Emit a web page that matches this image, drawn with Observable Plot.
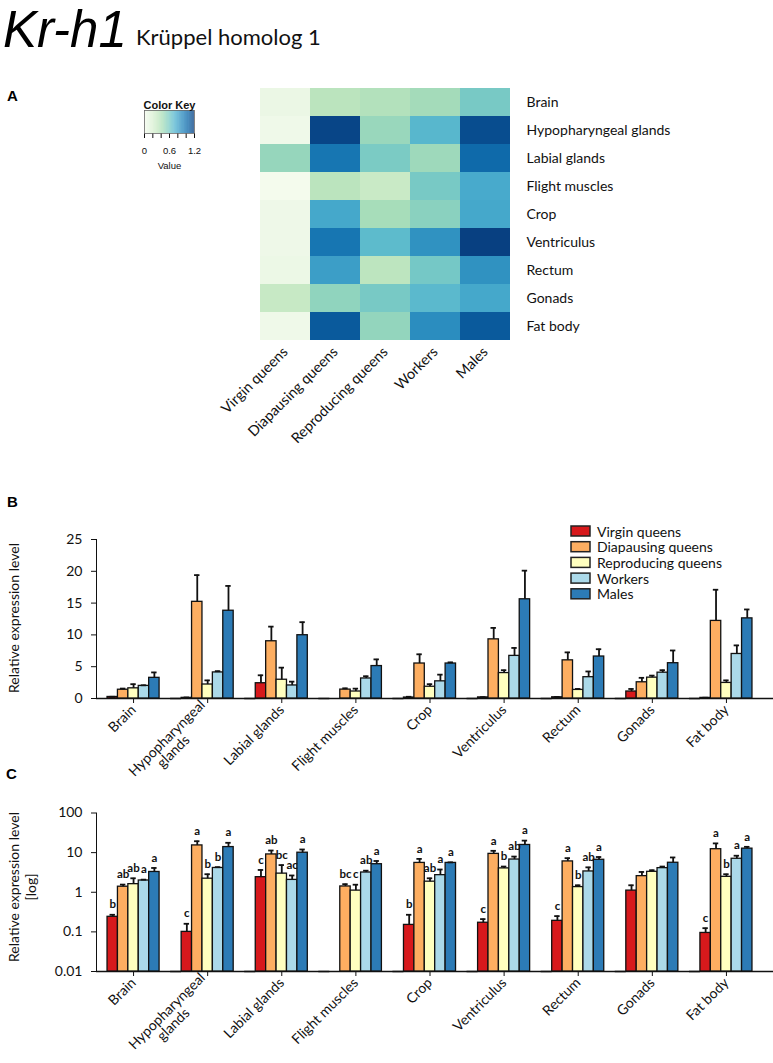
<!DOCTYPE html>
<html>
<head>
<meta charset="utf-8">
<script src="https://cdn.jsdelivr.net/npm/d3@7"></script>
<script src="https://cdn.jsdelivr.net/npm/@observablehq/plot@0.6"></script>
<style>
  body { margin: 0; background: #fff; }
  #root { position: relative; width: 773px; height: 1063px; overflow: hidden; background: #fff; }
  #root > svg, #root > figure { position: absolute; margin: 0; }
</style>
</head>
<body>
<div id="root"></div>
<script>
// ---------------- data ----------------
const tissues = ["Brain", "Hypopharyngeal glands", "Labial glands", "Flight muscles", "Crop",
                 "Ventriculus", "Rectum", "Gonads", "Fat body"];
const groups = ["Virgin queens", "Diapausing queens", "Reproducing queens", "Workers", "Males"];
const groupColors = ["#d7191c", "#fdae61", "#ffffbf", "#abd9e9", "#2c7bb6"];

// heatmap values (rows = tissues, columns = groups)
const heatValues = [
  [0.08, 0.37, 0.40, 0.46, 0.61],
  [0.05, 1.18, 0.50, 0.72, 1.15],
  [0.51, 0.99, 0.60, 0.48, 1.04],
  [0.02, 0.37, 0.30, 0.61, 0.78],
  [0.06, 0.79, 0.45, 0.55, 0.79],
  [0.06, 0.99, 0.70, 0.88, 1.21],
  [0.07, 0.83, 0.36, 0.62, 0.88],
  [0.31, 0.53, 0.61, 0.71, 0.79],
  [0.05, 1.10, 0.52, 0.90, 1.10]
];

// mean relative expression (rows = tissues, columns = groups)
const means = [
  [0.24, 1.38, 1.60, 1.98, 3.25],
  [0.10, 15.2, 2.20, 4.10, 13.8],
  [2.40, 9.00, 2.95, 2.05, 9.95],
  [null, 1.40, 1.10, 3.15, 5.10],
  [0.15, 5.50, 1.85, 2.70, 5.50],
  [0.17, 9.30, 4.00, 6.70, 15.6],
  [0.19, 6.00, 1.35, 3.35, 6.60],
  [1.10, 2.55, 3.28, 4.06, 5.55],
  [0.094, 12.2, 2.45, 7.00, 12.6]
];
// top of error bars
const uppers = [
  [0.27, 1.56, 2.25, 2.08, 4.10],
  [0.16, 19.4, 2.85, 4.30, 17.7],
  [3.65, 11.3, 4.85, 2.65, 12.0],
  [null, 1.60, 1.55, 3.50, 6.15],
  [0.27, 6.95, 2.25, 3.75, 5.68],
  [0.21, 11.1, 4.45, 7.95, 20.1],
  [0.25, 7.25, 1.50, 4.25, 7.75],
  [1.50, 3.25, 3.60, 4.45, 7.55],
  [0.124, 17.1, 2.85, 8.35, 14.0]
];
// significance letters (panel C)
const letters = [
  ["b", "ab", "ab", "a", "a"],
  ["c", "a", "b", "b", "a"],
  ["c", "ab", "bc", "ac", "a"],
  ["", "bc", "c", "ab", "a"],
  ["b", "a", "ab", "a", "a"],
  ["c", "a", "b", "ab", "a"],
  ["c", "a", "b", "ab", "a"],
  ["", "", "", "", ""],
  ["c", "a", "b", "a", "a"]
];

const yTicksB = [0, 5, 10, 15, 20, 25];
const yTicksC = [0.01, 0.1, 1, 10, 100];
const keyTicks = [0, 0.2, 0.4, 0.6, 0.8, 1, 1.2];
const keyLabels = [0, 0.6, 1.2];
const keyStops = d3.range(0, 1.2001, 0.005);

// ---------------- tables ----------------
const heatData = tissues.flatMap((t, i) => groups.map((g, j) => ({tissue: t, group: g, value: heatValues[i][j]})));
const barData = tissues.flatMap((t, i) => groups.map((g, j) => ({
  tissue: t, group: g, mean: means[i][j], upper: uppers[i][j], letter: letters[i][j]
}))).filter(d => d.mean != null);
const errData = barData.filter(d => d.upper != null);
const letterData = barData.filter(d => d.letter);

const NB = "\u00a0";
const tissueLabel = t => t === "Hypopharyngeal glands" ? "Hypopharyngeal\nglands" + NB.repeat(10) : t;

const root = document.getElementById("root");
function place(node, left, top) {
  node.style.position = "absolute";
  node.style.left = left + "px";
  node.style.top = top + "px";
  root.appendChild(node);
}

const baseStyle = {background: "transparent", fontFamily: "Lato, 'Open Sans', sans-serif", fontSize: "14px", color: "#111", overflow: "visible"};

// ---------------- panel A: heatmap ----------------
const heat = Plot.plot({
  width: 773, height: 361,
  marginLeft: 258, marginRight: 261, marginTop: 6, marginBottom: 100,
  style: baseStyle,
  x: {domain: groups, padding: 0, label: null, tickSize: 0, tickRotate: -45, tickPadding: 8},
  y: {domain: tissues, padding: 0, label: null, axis: "right", tickSize: 0, tickPadding: 14},
  color: {type: "linear", scheme: "gnbu", domain: [0, 1.2], clamp: true},
  marks: [
    Plot.cell(heatData, {x: "group", y: "tissue", fill: "value"})
  ]
});
heat.querySelectorAll("[aria-label='x-axis tick label'] text, [aria-label='x-axis tick label']").forEach(n => n.style.fontSize = "14.5px");
place(heat, 0, 80);

// colour key
const key = Plot.plot({
  width: 90, height: 82,
  marginLeft: 14, marginRight: 26, marginTop: 18, marginBottom: 41,
  style: {...baseStyle, fontFamily: "'Liberation Sans', Arial, sans-serif", fontSize: "9.5px"},
  x: {domain: [0, 1.2], ticks: keyTicks, tickSize: 5, tickPadding: 9,
      tickFormat: d => keyLabels.includes(d) ? String(d) : "", label: null},
  y: {axis: null},
  color: {type: "linear", scheme: "gnbu", domain: [0, 1.2]},
  marks: [
    Plot.rect(keyStops, {x1: d => d, x2: d => Math.min(1.2, d + 0.006), fill: d => d}),
    Plot.frame({stroke: "#666", strokeWidth: 0.8}),
    Plot.text(["Color Key"], {frameAnchor: "top", dy: -9, fontWeight: "bold", fontSize: 11}),
    Plot.text(["Value"], {frameAnchor: "bottom", dy: 35, fontSize: 9.5})
  ]
});
place(key, 130, 92);

// ---------------- panel B ----------------
const fxOpts = {domain: tissues, padding: 0, round: false, label: null, axis: "bottom",
                tickSize: 5, tickPadding: 4, tickRotate: -45, tickFormat: tissueLabel};
const xOpts = {domain: groups, paddingInner: 0, paddingOuter: 1.06, round: false, axis: null};

const plotB = Plot.plot({
  width: 773, height: 268,
  marginLeft: 96, marginRight: 10, marginTop: 19, marginBottom: 90,
  style: baseStyle,
  fx: fxOpts,
  x: xOpts,
  y: {domain: [0, 25], ticks: yTicksB, tickSize: 5, tickPadding: 9, label: null, line: true},
  color: {domain: groups, range: groupColors},
  marks: [
    Plot.ruleY([0], {insetRight: -11, stroke: "#111", strokeWidth: 1.3}),
    Plot.barY(barData, {fx: "tissue", x: "group", y: "mean", fill: "group", stroke: "#111", strokeWidth: 1.3}),
    Plot.ruleX(errData, {fx: "tissue", x: "group", y1: "mean", y2: "upper", stroke: "#111", strokeWidth: 1.8}),
    Plot.tickY(errData, {fx: "tissue", x: "group", y: "upper", stroke: "#111", strokeWidth: 1.8, insetLeft: 2.5, insetRight: 2.5})
  ]
});
place(plotB, 0, 520);

// ---------------- panel C ----------------
const logFloor = 0.01;
const plotC = Plot.plot({
  width: 773, height: 273,
  marginLeft: 96, marginRight: 10, marginTop: 22.5, marginBottom: 92,
  style: baseStyle,
  fx: fxOpts,
  x: xOpts,
  y: {type: "log", domain: [0.01, 100], ticks: yTicksC, tickFormat: d => String(d), tickSize: 5, tickPadding: 9, label: null, line: true},
  color: {domain: groups, range: groupColors},
  marks: [
    Plot.ruleY([logFloor], {insetRight: -11, stroke: "#111", strokeWidth: 1.3}),
    Plot.barY(barData, {fx: "tissue", x: "group", y1: logFloor, y2: "mean", fill: "group", stroke: "#111", strokeWidth: 1.3}),
    Plot.ruleX(errData, {fx: "tissue", x: "group", y1: "mean", y2: "upper", stroke: "#111", strokeWidth: 1.8}),
    Plot.tickY(errData, {fx: "tissue", x: "group", y: "upper", stroke: "#111", strokeWidth: 1.8, insetLeft: 2.5, insetRight: 2.5}),
    Plot.text(letterData, {fx: "tissue", x: "group", y: d => d.upper ?? d.mean, text: "letter", dy: -10,
                           fontWeight: "bold", fontSize: 11.5, fill: "#111"})
  ]
});
place(plotC, 0, 790);

// ---------------- overlay texts ----------------
const ov = d3.create("svg").attr("width", 773).attr("height", 1063)
  .style("position", "absolute").style("left", "0px").style("top", "0px")
  .style("pointer-events", "none").style("overflow", "visible");

ov.append("text").attr("x", 3).attr("y", 46.5)
  .style("font", "italic 51px 'Liberation Sans', Arial, sans-serif").attr("fill", "#000").text("Kr-h1");
ov.append("text").attr("x", 136).attr("y", 45)
  .style("font", "22px Lato, sans-serif").attr("fill", "#111").text("Krüppel homolog 1");

const panelFont = "bold 15px 'Liberation Sans', Arial, sans-serif";
ov.append("text").attr("x", 7).attr("y", 101).style("font", panelFont).text("A");
ov.append("text").attr("x", 7).attr("y", 507).style("font", panelFont).text("B");
ov.append("text").attr("x", 6).attr("y", 779).style("font", panelFont).text("C");

const titleFont = "14px Lato, sans-serif";
ov.append("text").attr("transform", "translate(19,618) rotate(-90)").attr("text-anchor", "middle")
  .style("font", titleFont).attr("fill", "#111").text("Relative expression level");
ov.append("text").attr("transform", "translate(19,887) rotate(-90)").attr("text-anchor", "middle")
  .style("font", titleFont).attr("fill", "#111").text("Relative expression level");
ov.append("text").attr("transform", "translate(36,887) rotate(-90)").attr("text-anchor", "middle")
  .style("font", titleFont).attr("fill", "#111").text("[log]");

// legend for panel B
const lg = ov.append("g");
groups.forEach((g, i) => {
  const y0 = 526 + i * 15.7;
  lg.append("rect").attr("x", 571).attr("y", y0).attr("width", 19).attr("height", 10)
    .attr("fill", groupColors[i]).attr("stroke", "#222").attr("stroke-width", 1.5);
  lg.append("text").attr("x", 597).attr("y", y0 + 5).attr("dominant-baseline", "central")
    .style("font", "14px Lato, sans-serif").attr("fill", "#111").text(g);
});

root.appendChild(ov.node());
</script>
</body>
</html>
